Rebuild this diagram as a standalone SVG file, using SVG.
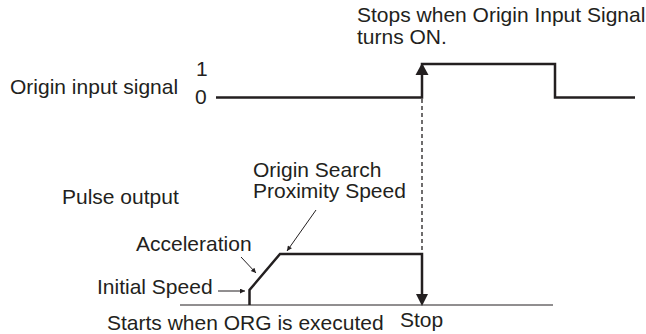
<svg xmlns="http://www.w3.org/2000/svg" width="646" height="334" viewBox="0 0 646 334">
  <style>
    text { font-family: "Liberation Sans", Arial, sans-serif; font-size: 21px; fill: #231f20; }
    .sig { fill: none; stroke: #231f20; stroke-width: 2.5; stroke-linejoin: miter; stroke-linecap: butt; }
    .thin { fill: none; stroke: #231f20; stroke-width: 1; }
    .dash { fill: none; stroke: #231f20; stroke-width: 1.3; stroke-dasharray: 4 3; }
  </style>
  <defs>
    <marker id="small" viewBox="0 0 10 10" refX="10" refY="5" markerWidth="7" markerHeight="5" markerUnits="userSpaceOnUse" orient="auto">
      <path d="M0,0 L10,5 L0,10 Z" fill="#231f20"/>
    </marker>
  </defs>

  <g id="title">
    <text x="357" y="22">Stops when Origin Input Signal</text>
    <text x="357" y="44">turns ON.</text>
  </g>

  <g id="origin-input-signal">
    <text x="10" y="94">Origin input signal</text>
    <text x="196" y="76">1</text>
    <text x="195" y="104">0</text>
    <polyline class="sig" points="216,97.5 422,97.5 422,64 555,64 555,97.5 635,97.5"/>
    <path d="M415.5,75 L428.5,75 L422,63 Z" fill="#231f20"/>
  </g>

  <g id="pulse-output">
    <text x="62" y="204">Pulse output</text>
    <line class="thin" x1="180" y1="305" x2="553" y2="305" stroke-width="1.2"/>
    <polyline class="sig" points="249.5,305 249.5,290 280,254 422,254 422,296"/>
    <path d="M416,294 L428,294 L422,306 Z" fill="#231f20"/>
  </g>

  <g id="labels">
    <text x="253" y="177">Origin Search</text>
    <text x="253" y="198">Proximity Speed</text>
    <text x="136" y="251">Acceleration</text>
    <text x="97" y="294">Initial Speed</text>
    <text x="107" y="330">Starts when ORG is executed</text>
    <text x="400" y="327">Stop</text>
  </g>

  <g id="connectors">
    <line class="dash" x1="422" y1="99" x2="422" y2="253"/>
    <line class="thin" x1="316" y1="210" x2="287" y2="251" marker-end="url(#small)"/>
    <line class="thin" x1="241" y1="257" x2="256" y2="273" marker-end="url(#small)"/>
    <line class="thin" x1="218" y1="291" x2="245" y2="291" marker-end="url(#small)"/>
  </g>
</svg>
